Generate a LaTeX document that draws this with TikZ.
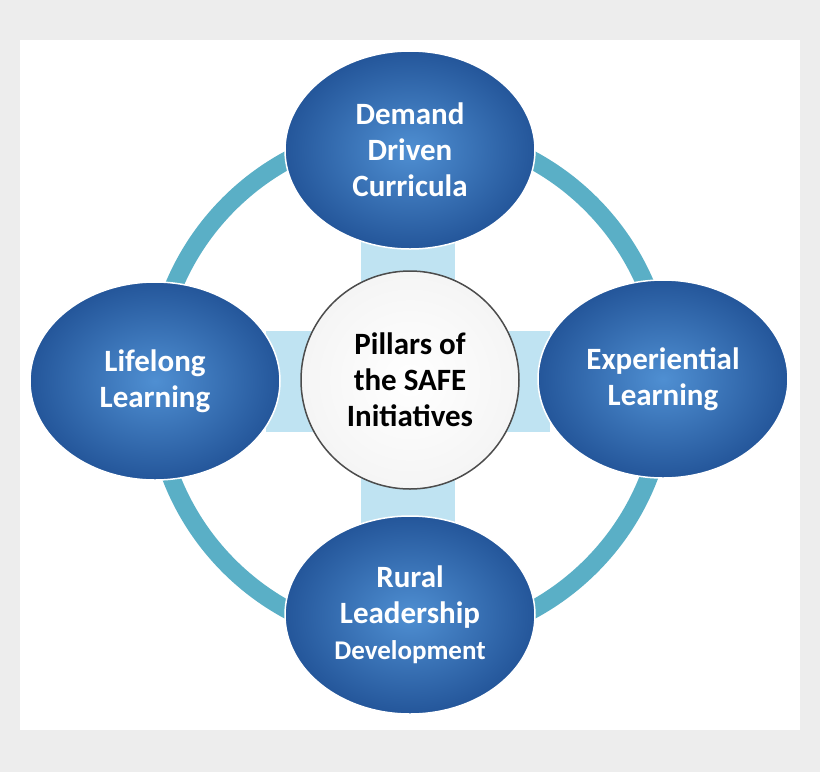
\documentclass[tikz,border=0pt]{standalone}
\usepackage{fontspec}
\setmainfont{Carlito}
\usetikzlibrary{shapes.geometric,shadows}
\definecolor{bg}{HTML}{EDEDED}
\definecolor{ring}{HTML}{5AAFC6}
\definecolor{bar}{HTML}{BFE3F2}
\definecolor{ballA}{HTML}{4F8FD2}
\definecolor{ballB}{HTML}{24569A}
\tikzset{
  pillar/.style={ellipse, minimum width=250pt, minimum height=198pt, draw=white, line width=1.5pt,
    inner color=ballA, outer color=ballB, text=white, font=\fontsize{31}{36}\selectfont\bfseries, align=center},
  hub/.style={circle, minimum size=218pt, draw=black!70, line width=1.5pt, fill=white,
    inner color=white, outer color=black!4, font=\fontsize{31}{36}\selectfont\bfseries, align=center}
}
\begin{document}
\begin{tikzpicture}[x=1pt,y=-1pt]
\useasboundingbox (0,0) rectangle (820,772);
\fill[bg] (0,0) rectangle (820,772);
\fill[white] (20,40) rectangle (800,730);
\draw[ring, line width=18pt] (410,385) circle (256);
\fill[bar, draw=white, line width=1pt] (360,240) rectangle (455,525);
\fill[bar, draw=white, line width=1pt] (265,330) rectangle (550,432);
\node[hub] (c) at (410,380) {Pillars of\\the SAFE\\Initiatives};
\node[pillar] (t) at (410,150) {Demand\\Driven\\Curricula};
\node[pillar] (l) at (155,381) {Lifelong\\Learning};
\node[pillar] (r) at (663,379) {Experiential\\Learning};
\node[pillar] (b) at (410,615) {Rural\\Leadership\\{\fontsize{27}{33}\selectfont Development}};
\end{tikzpicture}
\end{document}
